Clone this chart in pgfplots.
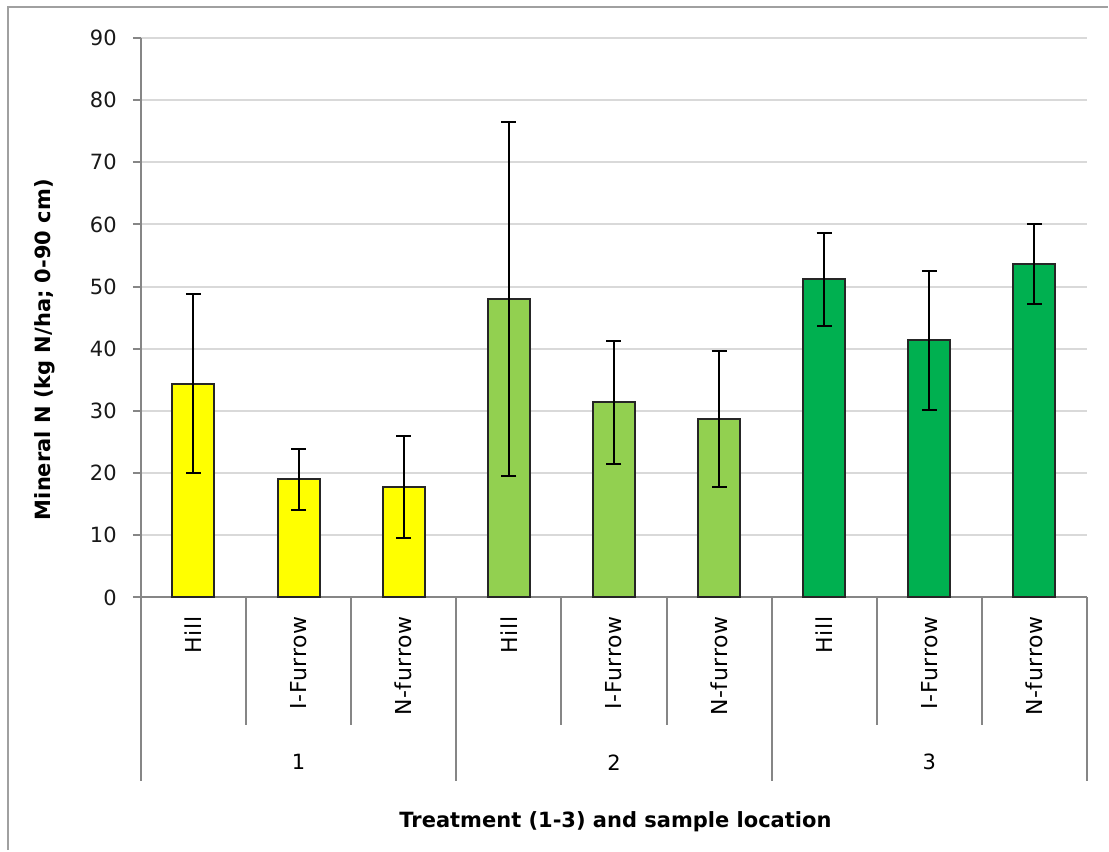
\documentclass[border=0pt]{standalone}
\usepackage{fontspec}
\setmainfont{DejaVu Sans}
\usepackage{pgfplots}
\pgfplotsset{compat=1.18}
\definecolor{axgray}{HTML}{868686}
\definecolor{gridgray}{HTML}{D9D9D9}
\definecolor{cyellow}{HTML}{FFFF00}
\definecolor{clight}{HTML}{92D050}
\definecolor{cgreen}{HTML}{00B050}
\definecolor{framegray}{HTML}{A0A0A0}
\pgfplotstableread{
x y e
0.5 34.4 14.4
1.5 19.0 4.9
2.5 17.8 8.2
}\tone
\pgfplotstableread{
x y e
3.5 48.0 28.5
4.5 31.4 9.9
5.5 28.7 10.9
}\ttwo
\pgfplotstableread{
x y e
6.5 51.2 7.5
7.5 41.35 11.15
8.5 53.7 6.45
}\tthree
\pgfplotsset{mybar/.style={ybar, draw=black!85, line width=2pt, fill=#1,
    error bars/y dir=both, error bars/y explicit,
    error bars/error bar style={black, line width=2pt},
    error bars/error mark options={black, rotate=90, mark size=7.5pt, line width=2pt}}}
\tikzset{catlab/.style={rotate=90, anchor=east, inner sep=0pt, font=\fontsize{22}{26}\selectfont\addfontfeature{LetterSpace=3}},
  grplab/.style={font=\fontsize{21}{25}\selectfont},
  sep/.style={axgray, line width=2pt}}
\begin{document}
\begin{tikzpicture}
\path (0pt,0pt) rectangle (1109pt,851pt);
\draw[framegray, line width=2pt] (8pt,0pt) -- (8pt,844pt) -- (1109pt,844pt);
\begin{axis}[
  at={(141pt,253pt)}, anchor=south west,
  scale only axis, width=947pt, height=560pt,
  xmin=0, xmax=9, ymin=0, ymax=90,
  ytick={0,10,...,90}, xtick=\empty,
  axis lines*=left,
  axis line style={axgray, line width=2pt},
  ymajorgrids, grid style={gridgray, line width=2pt},
  tick align=outside, major tick length=8pt,
  y tick style={axgray, line width=2pt},
  /pgf/number format/assume math mode=true,
  yticklabel style={font=\fontsize{21}{25}\selectfont, text=black!90, anchor=east, inner sep=0pt, xshift=-16pt},
  clip=false,
  bar width=0.4,
]
\addplot[mybar=cyellow] table[x=x, y=y, y error=e] {\tone};
\addplot[mybar=clight] table[x=x, y=y, y error=e] {\ttwo};
\addplot[mybar=cgreen] table[x=x, y=y, y error=e] {\tthree};

\pgfplotsinvokeforeach{1,2,4,5,7,8}{
  \draw[sep] (axis cs:#1,0) -- ++(0pt,-128pt);
}
\pgfplotsinvokeforeach{0,3,6,9}{
  \draw[sep] (axis cs:#1,0) -- ++(0pt,-184pt);
}
\path (axis cs:0.5,0) ++(0pt,-19pt) node[catlab] {Hill};
\path (axis cs:1.5,0) ++(0pt,-19pt) node[catlab] {I-Furrow};
\path (axis cs:2.5,0) ++(0pt,-19pt) node[catlab] {N-furrow};
\path (axis cs:3.5,0) ++(0pt,-19pt) node[catlab] {Hill};
\path (axis cs:4.5,0) ++(0pt,-19pt) node[catlab] {I-Furrow};
\path (axis cs:5.5,0) ++(0pt,-19pt) node[catlab] {N-furrow};
\path (axis cs:6.5,0) ++(0pt,-19pt) node[catlab] {Hill};
\path (axis cs:7.5,0) ++(0pt,-19pt) node[catlab] {I-Furrow};
\path (axis cs:8.5,0) ++(0pt,-19pt) node[catlab] {N-furrow};
\path (axis cs:1.5,0) ++(0pt,-165pt) node[grplab] {1};
\path (axis cs:4.5,0) ++(0pt,-165pt) node[grplab] {2};
\path (axis cs:7.5,0) ++(0pt,-165pt) node[grplab] {3};
\end{axis}
\node[rotate=90, font=\fontsize{21}{25}\selectfont\bfseries] at (45pt,501pt) {Mineral N (kg N/ha; 0-90 cm)};
\node[font=\fontsize{21}{25}\selectfont\bfseries] at (616pt,29pt) {Treatment (1-3) and sample location};
\end{tikzpicture}
\end{document}
